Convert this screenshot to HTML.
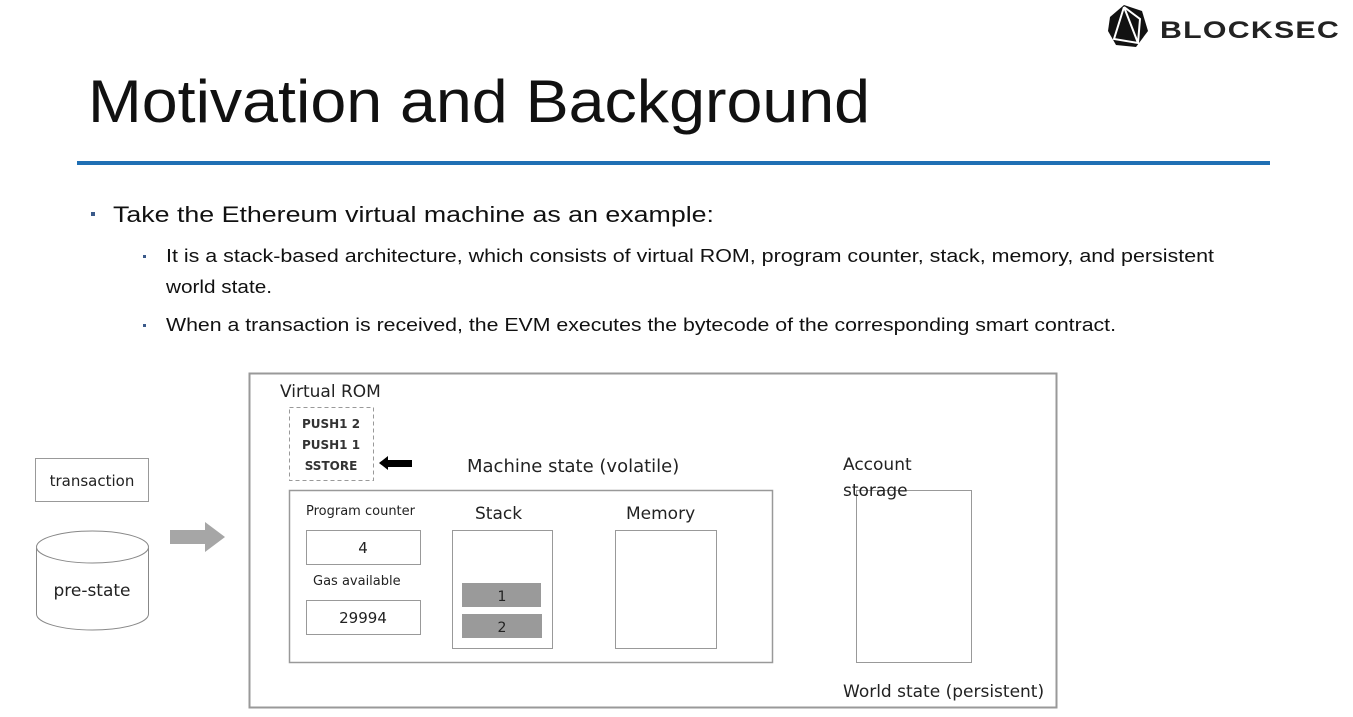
<!DOCTYPE html>
<html><head><meta charset="utf-8"><style>
html,body{margin:0;padding:0;background:#fff;}
svg{display:block;}
text{font-family:"Liberation Sans",sans-serif;fill:#111;}
.d{font-family:"DejaVu Sans","Liberation Sans",sans-serif;fill:#222;}
</style></head><body>
<svg width="1353" height="717" viewBox="0 0 1353 717" xmlns="http://www.w3.org/2000/svg">
<rect width="1353" height="717" fill="#fff"/>
<!-- logo -->
<g transform="translate(1128,27)">
<polygon points="-18,-10 -4,-22 14,-16 20,4 8,20 -12,18 -20,4" fill="#111"/>
<polyline points="-4,-20 -14,12 10,16 -4,-20" fill="none" stroke="#fff" stroke-width="2"/>
<polyline points="-4,-20 12,-8 10,16" fill="none" stroke="#fff" stroke-width="2"/>
</g>
<text x="1160" y="38" font-size="24" font-weight="bold" textLength="180" lengthAdjust="spacingAndGlyphs" style="fill:#222;letter-spacing:1px">BLOCKSEC</text>
<!-- title -->
<text x="88" y="122" font-size="60" textLength="782" lengthAdjust="spacingAndGlyphs">Motivation and Background</text>
<rect x="77" y="161" width="1193" height="4" fill="#1f6fb4"/>
<!-- bullets -->
<rect x="91" y="212" width="4" height="4" fill="#3a5a8a"/>
<text x="113" y="222" font-size="22" textLength="601" lengthAdjust="spacingAndGlyphs">Take the Ethereum virtual machine as an example:</text>
<rect x="143" y="255" width="3" height="3" fill="#3a5a8a"/>
<text x="166" y="262" font-size="18" textLength="1048" lengthAdjust="spacingAndGlyphs">It is a stack-based architecture, which consists of virtual ROM, program counter, stack, memory, and persistent</text>
<text x="166" y="293" font-size="18" textLength="106" lengthAdjust="spacingAndGlyphs">world state.</text>
<rect x="143" y="324" width="3" height="3" fill="#3a5a8a"/>
<text x="166" y="331" font-size="18" textLength="950" lengthAdjust="spacingAndGlyphs">When a transaction is received, the EVM executes the bytecode of the corresponding smart contract.</text>
<!-- left side -->
<rect x="35.5" y="458.5" width="113" height="43" fill="#fff" stroke="#999"/>
<text class="d" x="92" y="486" font-size="15" text-anchor="middle">transaction</text>
<path d="M36.5,548 L36.5,614 A56,16 0 0 0 148.5,614 L148.5,548" fill="#fff" stroke="#888"/>
<ellipse cx="92.5" cy="547" rx="56" ry="16" fill="#fff" stroke="#888"/>
<text class="d" x="92" y="596" font-size="17" text-anchor="middle">pre-state</text>
<polygon points="170,530 205,530 205,522 225,537 205,552 205,544 170,544" fill="#a6a6a6"/>
<!-- outer box -->
<rect x="249.5" y="373.5" width="807" height="334" fill="#fff" stroke="#999" stroke-width="2"/>
<text class="d" x="280" y="397" font-size="17">Virtual ROM</text>
<rect x="289.5" y="407.5" width="84" height="73" fill="none" stroke="#999" stroke-dasharray="4,3"/>
<text class="d" x="331" y="428" font-size="12" text-anchor="middle" font-weight="bold" style="fill:#333">PUSH1 2</text>
<text class="d" x="331" y="449" font-size="12" text-anchor="middle" font-weight="bold" style="fill:#333">PUSH1 1</text>
<text class="d" x="331" y="470" font-size="12" text-anchor="middle" font-weight="bold" style="fill:#333">SSTORE</text>
<polygon points="379,463 388,456 388,460 412,460 412,467 388,467 388,470" fill="#000"/>
<text class="d" x="467" y="472" font-size="18">Machine state (volatile)</text>
<rect x="289.5" y="490.5" width="483" height="172" fill="#fff" stroke="#999" stroke-width="1.5"/>
<text class="d" x="306" y="515" font-size="13">Program counter</text>
<rect x="306.5" y="530.5" width="114" height="34" fill="#fff" stroke="#999"/>
<text class="d" x="363" y="553" font-size="15" text-anchor="middle">4</text>
<text class="d" x="313" y="585" font-size="13">Gas available</text>
<rect x="306.5" y="600.5" width="114" height="34" fill="#fff" stroke="#999"/>
<text class="d" x="363" y="623" font-size="15" text-anchor="middle">29994</text>
<text class="d" x="475" y="519" font-size="17">Stack</text>
<rect x="452.5" y="530.5" width="100" height="118" fill="#fff" stroke="#999"/>
<rect x="462" y="583" width="79" height="24" fill="#9a9a9a"/>
<rect x="462" y="614" width="80" height="24" fill="#9a9a9a"/>
<text class="d" x="502" y="601" font-size="14" text-anchor="middle">1</text>
<text class="d" x="502" y="632" font-size="14" text-anchor="middle">2</text>
<text class="d" x="626" y="519" font-size="17">Memory</text>
<rect x="615.5" y="530.5" width="101" height="118" fill="#fff" stroke="#999"/>
<rect x="856.5" y="490.5" width="115" height="172" fill="none" stroke="#999"/>
<text class="d" x="843" y="470" font-size="17">Account</text>
<text class="d" x="843" y="496" font-size="17">storage</text>
<text class="d" x="843" y="697" font-size="17">World state (persistent)</text>
</svg>
</body></html>
